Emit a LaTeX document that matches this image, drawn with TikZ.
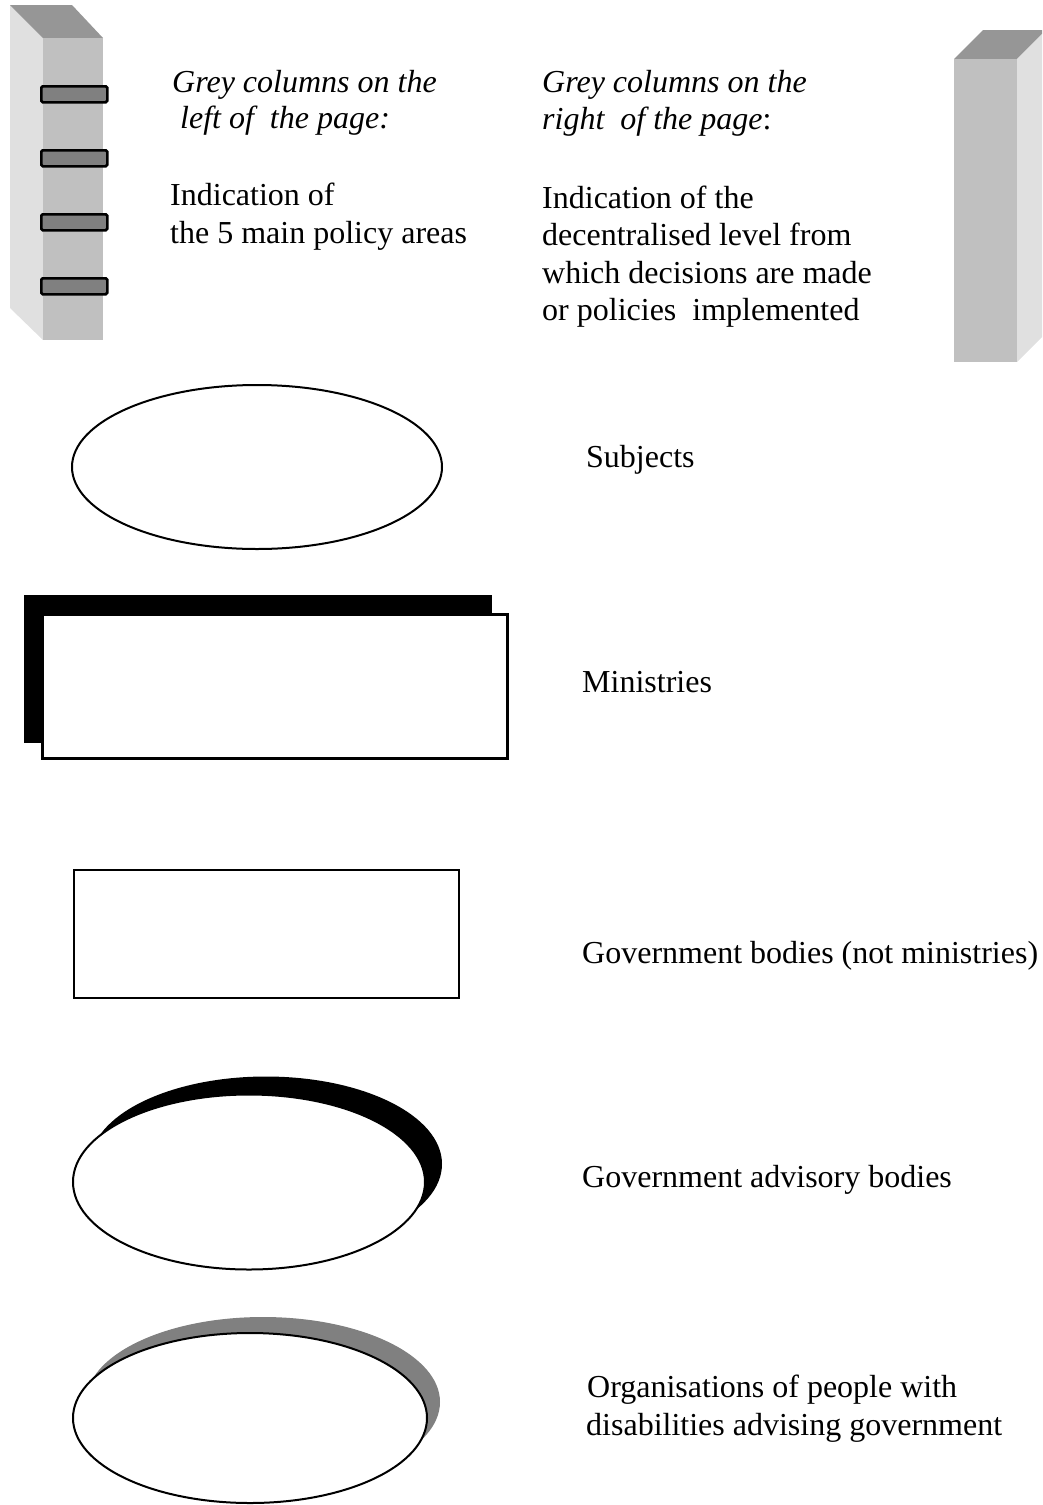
\documentclass[tikz,border=0pt]{standalone}
\usepackage{fontspec}
\setmainfont{Liberation Serif}
\usetikzlibrary{shapes.geometric}

\definecolor{colfront}{RGB}{192,192,192}
\definecolor{colside}{RGB}{224,224,224}
\definecolor{coltop}{RGB}{150,150,150}
\definecolor{colbar}{RGB}{128,128,128}
\definecolor{colshade}{RGB}{128,128,128}

\begin{document}
\begin{tikzpicture}[x=1pt,y=-1pt,
  txt/.style={anchor=base west, inner sep=0pt, font=\fontsize{32}{37.5}\selectfont},
  itxt/.style={txt, font=\fontsize{32}{37.5}\selectfont\itshape},
  bar/.style={draw=black, fill=colbar, line width=2.5pt, rounded corners=1.5pt},
  oval/.style={ellipse, draw=black, fill=white, line width=2pt, inner sep=0pt},
  ovalshadow/.style={ellipse, inner sep=0pt},
  box/.style={rectangle, draw=black, fill=white, line width=2.5pt, inner sep=0pt},
]
\useasboundingbox (0,0) rectangle (1042,1505);

% left column with the policy-area markers
\fill[colside] (10,5) -- (43,38) -- (43,340) -- (10,308) -- cycle;
\fill[coltop] (10,5) -- (72,5) -- (103,38) -- (43,38) -- cycle;
\fill[colfront] (43,38) rectangle (103,340);
\foreach \y [count=\i] in {85,149,213,277}
  \node[bar, minimum width=66pt, minimum height=16pt, anchor=north west] (bar\i) at (40,\y) {};

% right column
\begin{scope}
\clip (0,0) rectangle (1042,1505);
\fill[coltop] (954,59) -- (983,30) -- (1046,30) -- (1017,59) -- cycle;
\fill[colside] (1017,59) -- (1046,30) -- (1046,333) -- (1017,362) -- cycle;
\fill[colfront] (954,59) rectangle (1017,362);
\end{scope}

% explanatory texts
\node[itxt] (l1) at (172,92) {Grey columns on the};
\node[itxt] (l2) at (172,128) {\ left of\ \ the page:};
\node[txt] (l3) at (170,205) {Indication of};
\node[txt] (l4) at (170,243) {the 5 main policy areas};

\node[itxt] (r1) at (542,92) {Grey columns on the};
\node[txt] (r2) at (542,129) {\textit{right\ \ of the page}:};
\node[txt] (r3) at (542,208) {Indication of the};
\node[txt] (r4) at (542,245) {decentralised level from};
\node[txt] (r5) at (542,283) {which decisions are made};
\node[txt] (r6) at (542,320) {or policies\ \ implemented};

% legend: subjects
\node[oval, minimum width=370pt, minimum height=164pt] (subj) at (257,467) {};
\node[txt] (subjT) at (586,467) {Subjects};

% legend: ministries
\node[rectangle, fill=black, minimum width=468pt, minimum height=148pt, anchor=north west, inner sep=0pt] (minS) at (24,595) {};
\node[box, minimum width=465pt, minimum height=144pt, anchor=north west] (min) at (41,613) {};
\node[txt] (minT) at (582,692) {Ministries};

% legend: government bodies
\node[box, line width=2pt, minimum width=385pt, minimum height=128pt, anchor=north west] (gov) at (73,869) {};
\node[txt] (govT) at (582,963) {Government bodies (not ministries)};

% legend: government advisory bodies
\node[ovalshadow, fill=black, minimum width=352pt, minimum height=175pt] (advS) at (266,1164) {};
\node[oval, minimum width=352pt, minimum height=175pt] (adv) at (249,1182) {};
\node[txt] (advT) at (582,1187) {Government advisory bodies};

% legend: organisations of people with disabilities
\node[ovalshadow, fill=colshade, minimum width=354pt, minimum height=170pt] (orgS) at (263,1402) {};
\node[oval, minimum width=354pt, minimum height=170pt] (org) at (250,1418) {};
\node[txt] (orgT1) at (587,1397) {Organisations of people with};
\node[txt] (orgT2) at (586,1435) {disabilities advising government};

\end{tikzpicture}
\end{document}
